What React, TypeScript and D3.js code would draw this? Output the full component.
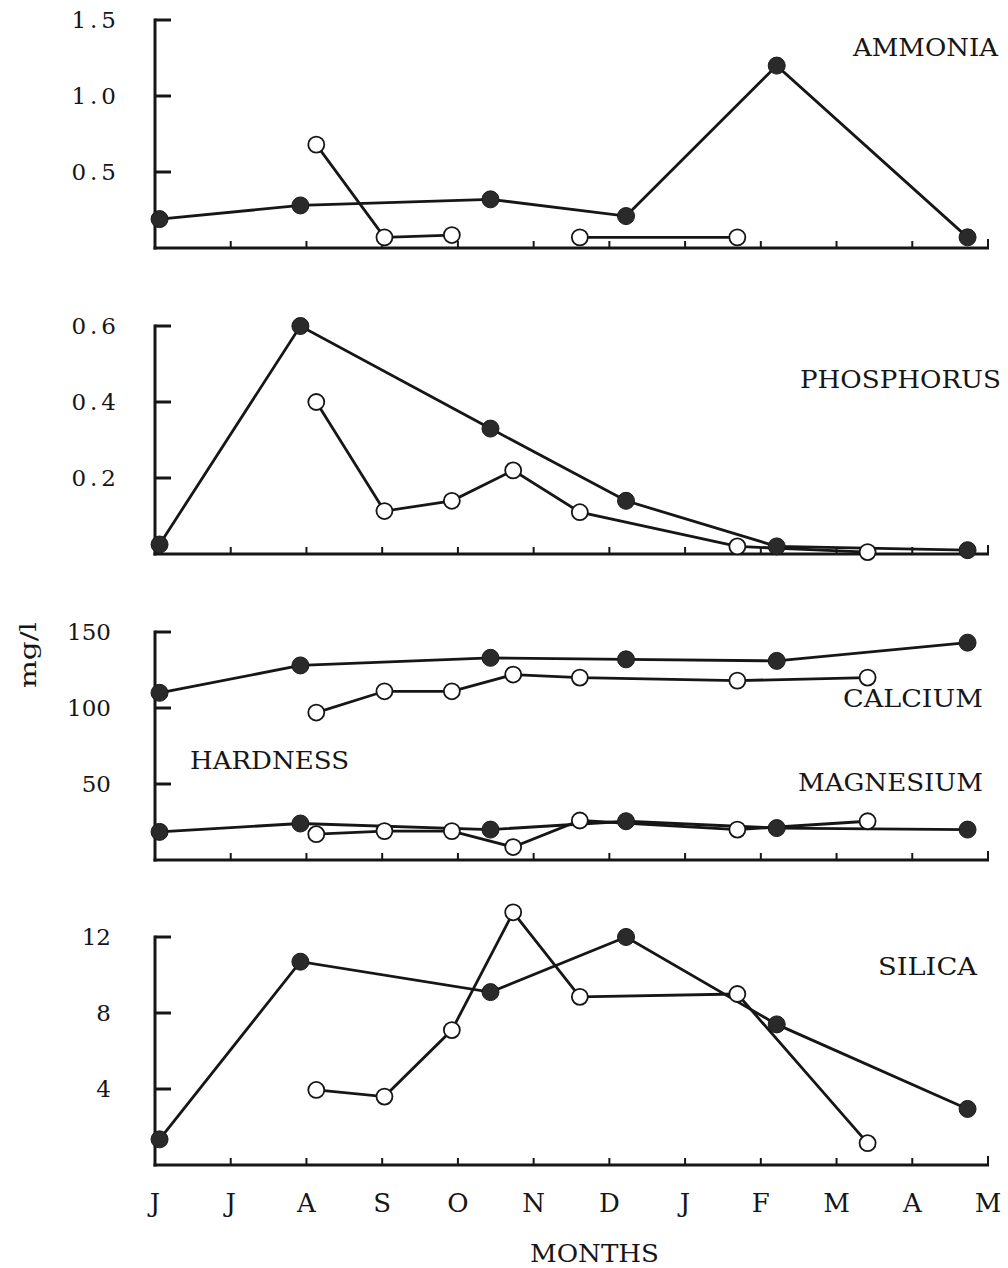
import React from 'react';
import * as d3 from 'd3';

// Month initials along the shared time axis (June through the following May)
const monthLabels = ['J', 'J', 'A', 'S', 'O', 'N', 'D', 'J', 'F', 'M', 'A', 'M'];

// Sampling dates, in months after 1 June
const filledDates = [0.06, 1.92, 4.43, 6.22, 8.21, 10.73];
const openDates = [2.13, 3.03, 3.92, 4.73, 5.61, 7.69, 9.41];

// Concentrations, mg/l (null = no sample)
const ammoniaFilled = [0.19, 0.28, 0.32, 0.21, 1.2, 0.07];
const ammoniaOpen = [0.68, 0.07, 0.085, null, 0.07, 0.07, null];

const phosphorusFilled = [0.025, 0.6, 0.33, 0.14, 0.02, 0.01];
const phosphorusOpen = [0.4, 0.113, 0.14, 0.22, 0.11, 0.02, 0.005];

const calciumFilled = [110, 128, 133, 132, 131, 143];
const calciumOpen = [97, 111, 111, 122, 120, 118, 120];

const magnesiumFilled = [18.5, 24, 20, 25.5, 21, 20];
const magnesiumOpen = [17, 19, 19, 8.5, 26, 20, 25.5];

const silicaFilled = [1.35, 10.7, 9.1, 12.0, 7.4, 2.95];
const silicaOpen = [3.95, 3.6, 7.1, 13.3, 8.85, 9.0, 1.15];

// Axis ticks per panel
const ammoniaTicks = [0.5, 1.0, 1.5];
const phosphorusTicks = [0.2, 0.4, 0.6];
const hardnessTicks = [50, 100, 150];
const silicaTicks = [4, 8, 12];

type Series = { dates: number[]; values: (number | null)[]; open: boolean };
type Label = { text: string; x: number; y: number; len: number };
type Panel = {
  top: number;
  max: number;
  ticks: number[];
  decimals: boolean;
  series: Series[];
  labels: Label[];
};

const FONT = '"DejaVu Serif", "Liberation Serif", serif';
const INK = '#161616';

const panels: Panel[] = [
  {
    top: 20,
    max: 1.5,
    ticks: ammoniaTicks,
    decimals: true,
    series: [
      { dates: filledDates, values: ammoniaFilled, open: false },
      { dates: openDates, values: ammoniaOpen, open: true },
    ],
    labels: [{ text: 'AMMONIA', x: 853, y: 56, len: 145 }],
  },
  {
    top: 326,
    max: 0.6,
    ticks: phosphorusTicks,
    decimals: true,
    series: [
      { dates: filledDates, values: phosphorusFilled, open: false },
      { dates: openDates, values: phosphorusOpen, open: true },
    ],
    labels: [{ text: 'PHOSPHORUS', x: 800, y: 388, len: 201 }],
  },
  {
    top: 632,
    max: 150,
    ticks: hardnessTicks,
    decimals: false,
    series: [
      { dates: filledDates, values: calciumFilled, open: false },
      { dates: openDates, values: calciumOpen, open: true },
      { dates: filledDates, values: magnesiumFilled, open: false },
      { dates: openDates, values: magnesiumOpen, open: true },
    ],
    labels: [
      { text: 'CALCIUM', x: 843, y: 707, len: 140 },
      { text: 'MAGNESIUM', x: 798, y: 791, len: 185 },
      { text: 'HARDNESS', x: 190, y: 769, len: 159 },
    ],
  },
  {
    top: 937,
    max: 12,
    ticks: silicaTicks,
    decimals: false,
    series: [
      { dates: filledDates, values: silicaFilled, open: false },
      { dates: openDates, values: silicaOpen, open: true },
    ],
    labels: [{ text: 'SILICA', x: 878, y: 975, len: 99 }],
  },
];

const PANEL_H = 228;
const x = d3.scaleLinear().domain([0, monthLabels.length - 1]).range([155, 988]);

function PanelView({ p }: { p: Panel }) {
  const y = d3.scaleLinear().domain([0, p.max]).range([p.top + PANEL_H, p.top]);
  const base = p.top + PANEL_H;
  const x0 = x(0);

  return (
    <g>
      {/* y axis with inward ticks */}
      <line x1={x0} x2={x0} y1={p.top - 1.5} y2={base + 1.5} stroke={INK} strokeWidth={3} />
      {p.ticks.map((t) => (
        <g key={t}>
          <line x1={x0} x2={x0 + 16} y1={y(t)} y2={y(t)} stroke={INK} strokeWidth={3} />
          <text
            x={p.decimals ? 120 : 111}
            y={y(t)}
            dy="0.36em"
            textAnchor="end"
            fontFamily={FONT}
            fontSize={23}
            letterSpacing={p.decimals ? 4 : 0}
            fill={INK}
          >
            {p.decimals ? t.toFixed(1) : String(t)}
          </text>
        </g>
      ))}
      {/* baseline with month ticks */}
      <line x1={x0 - 1.5} x2={x(11) + 1} y1={base} y2={base} stroke={INK} strokeWidth={3} />
      {d3.range(1, monthLabels.length).map((i) => (
        <line
          key={i}
          x1={x(i)}
          x2={x(i)}
          y1={base}
          y2={base - (i === monthLabels.length - 1 ? 9 : 7)}
          stroke={INK}
          strokeWidth={2}
        />
      ))}
      {/* series lines */}
      {p.series.map((s, si) => {
        const pts = s.dates.map((d, i) => [d, s.values[i]] as [number, number | null]);
        const path = d3
          .line<[number, number | null]>()
          .defined((d) => d[1] !== null)
          .x((d) => x(d[0]))
          .y((d) => y(d[1] as number))(pts);
        return <path key={'l' + si} d={path || ''} fill="none" stroke={INK} strokeWidth={2.8} />;
      })}
      {/* markers */}
      {p.series.map((s, si) =>
        s.dates.map((d, i) => {
          const v = s.values[i];
          if (v === null) return null;
          return s.open ? (
            <circle
              key={'m' + si + '-' + i}
              cx={x(d)}
              cy={y(v)}
              r={8}
              fill="#fff"
              stroke={INK}
              strokeWidth={1.8}
            />
          ) : (
            <circle key={'m' + si + '-' + i} cx={x(d)} cy={y(v)} r={8.5} fill="#2a2a2a" stroke="#1a1a1a" strokeWidth={1} />
          );
        })
      )}
      {/* labels */}
      {p.labels.map((l) => (
        <text
          key={l.text}
          x={l.x}
          y={l.y}
          textLength={l.len}
          lengthAdjust="spacingAndGlyphs"
          fontFamily={FONT}
          fontSize={25}
          fill={INK}
        >
          {l.text}
        </text>
      ))}
    </g>
  );
}

export default function App() {
  return (
    <svg
      width={1008}
      height={1268}
      style={{ position: 'absolute', left: 0, top: 0, display: 'block', background: '#fff' }}
    >
      <rect width={1008} height={1268} fill="#fff" />
      {panels.map((p, i) => (
        <PanelView key={i} p={p} />
      ))}
      {monthLabels.map((m, i) => (
        <text
          key={i}
          x={x(i)}
          y={1212}
          textAnchor="middle"
          fontFamily={FONT}
          fontSize={26}
          fill={INK}
        >
          {m}
        </text>
      ))}
      <text
        x={530}
        y={1262}
        textLength={129}
        lengthAdjust="spacingAndGlyphs"
        fontFamily={FONT}
        fontSize={25}
        fill={INK}
      >
        MONTHS
      </text>
      <text
        transform="translate(36,688) rotate(-90)"
        textLength={66}
        lengthAdjust="spacingAndGlyphs"
        fontFamily={FONT}
        fontSize={22}
        fill={INK}
      >
        mg/l
      </text>
    </svg>
  );
}
